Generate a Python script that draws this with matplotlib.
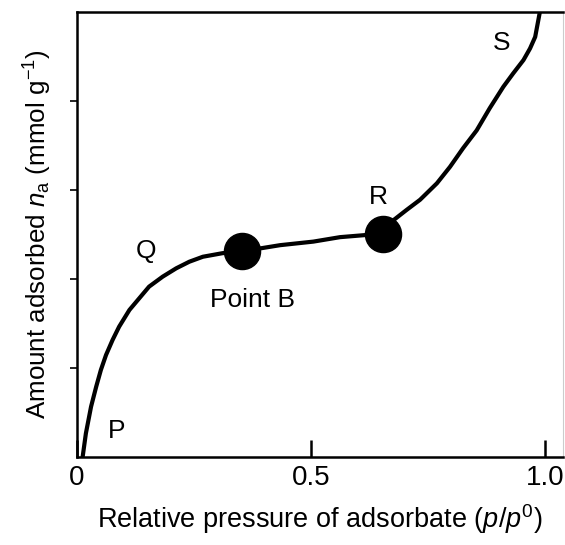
import matplotlib
matplotlib.use("Agg")
import matplotlib.pyplot as plt

plt.rcParams['font.family'] = ['Liberation Sans', 'DejaVu Sans']
plt.rcParams['mathtext.fontset'] = 'custom'
plt.rcParams['mathtext.rm'] = 'Liberation Sans'
plt.rcParams['mathtext.it'] = 'Liberation Sans:italic'

# isotherm
rel_pressure = [0.012, 0.019, 0.030, 0.041, 0.051, 0.062, 0.076, 0.090, 0.112,
                0.133, 0.154, 0.183, 0.212, 0.240, 0.269, 0.311, 0.352, 0.434,
                0.505, 0.562, 0.654, 0.676, 0.704, 0.733, 0.769, 0.797, 0.825,
                0.854, 0.882, 0.911, 0.932, 0.954, 0.968, 0.979, 0.989]
amount = [0.0, 0.266, 0.565, 0.79, 0.978, 1.146, 1.315, 1.464, 1.652,
          1.783, 1.914, 2.026, 2.12, 2.194, 2.25, 2.29, 2.31, 2.38,
          2.42, 2.47, 2.51, 2.66, 2.775, 2.89, 3.075, 3.26, 3.47,
          3.67, 3.92, 4.16, 4.31, 4.46, 4.59, 4.72, 5.0]

marker_x = [0.352, 0.654]
marker_y = [2.31, 2.51]

labels = ['P', 'Q', 'Point B', 'R', 'S']
label_x = [0.085, 0.147, 0.376, 0.643, 0.907]
label_y = [0.29, 2.31, 1.76, 2.92, 4.65]

fig = plt.figure(figsize=(5.65, 5.45), dpi=100)
ax = fig.add_axes([0.1363, 0.1615, 0.8602, 0.8165])

ax.plot(rel_pressure, amount, color='black', lw=3, solid_capstyle='round',
        solid_joinstyle='round')
ax.plot(marker_x, marker_y, 'o', color='black', markersize=26)

for t, x, y in zip(labels, label_x, label_y):
    ax.text(x, y, t, fontsize=19, ha='center', va='center')

ax.set_xlim(0, 1.0385)
ax.set_ylim(0, 5)

ax.set_xticks([0, 0.5, 1.0])
ax.set_xticklabels(['0', '0.5', '1.0'])
ax.tick_params(axis='x', direction='in', length=12, width=1.8, labelsize=20, pad=6)
ax.set_yticks([1, 2, 3, 4])
ax.set_yticklabels([])
ax.tick_params(axis='y', direction='out', length=5, width=1.2)

for s in ['left', 'bottom', 'top']:
    ax.spines[s].set_linewidth(1.8)
ax.spines['right'].set_color('#cccccc')
ax.spines['right'].set_linewidth(0.8)

ax.set_xlabel('Relative pressure of adsorbate ($p$/$p^0$)', fontsize=19.5, labelpad=8)
ax.set_ylabel('Amount adsorbed $n_\\mathrm{a}$ (mmol g$^{-1}$)', fontsize=18.7, labelpad=8)

fig.savefig('out.png', dpi=100)
